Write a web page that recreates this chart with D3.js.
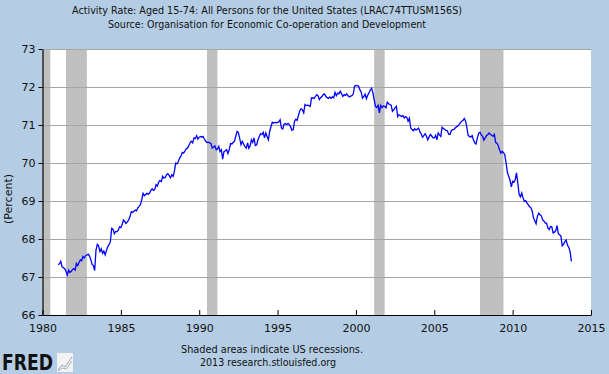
<!DOCTYPE html>
<html>
<head>
<meta charset="utf-8">
<script src="https://cdn.jsdelivr.net/npm/d3@7"></script>
<style>
  html, body { margin: 0; padding: 0; background: #B4CDE4; }
  svg { display: block; }
  text { font-family: "DejaVu Sans", Verdana, sans-serif; fill: #111; }
</style>
</head>
<body>
<script>
// monthly activity rate, starting January 1981
var startYear = 1981;
var rateValues = [
  67.32, 67.35, 67.41, 67.27, 67.25, 67.22, 67.15, 67.05, 67.18, 67.12, 67.15, 67.20, // 1981
  67.22, 67.18, 67.36, 67.30, 67.38, 67.45, 67.43, 67.54, 67.50, 67.56, 67.58, 67.60, // 1982
  67.55, 67.45, 67.33, 67.30, 67.17, 67.71, 67.86, 67.82, 67.67, 67.74, 67.62, 67.68, // 1983
  67.58, 67.70, 67.80, 67.85, 67.93, 68.28, 68.26, 68.14, 68.20, 68.19, 68.23, 68.32, // 1984
  68.30, 68.39, 68.50, 68.46, 68.41, 68.45, 68.50, 68.59, 68.72, 68.70, 68.73, 68.76, // 1985
  68.74, 68.82, 68.86, 68.90, 69.03, 69.20, 69.14, 69.17, 69.20, 69.18, 69.21, 69.28, // 1986
  69.32, 69.28, 69.30, 69.43, 69.39, 69.50, 69.54, 69.51, 69.65, 69.60, 69.62, 69.69, // 1987
  69.72, 69.67, 69.61, 69.69, 69.65, 69.78, 70.00, 69.98, 70.04, 70.13, 70.18, 70.28, // 1988
  70.26, 70.31, 70.37, 70.39, 70.45, 70.53, 70.57, 70.53, 70.66, 70.64, 70.72, 70.63, // 1989
  70.68, 70.70, 70.68, 70.70, 70.63, 70.57, 70.54, 70.55, 70.53, 70.51, 70.39, 70.42, // 1990
  70.45, 70.35, 70.37, 70.44, 70.30, 70.35, 70.10, 70.30, 70.32, 70.35, 70.25, 70.35, // 1991
  70.51, 70.50, 70.54, 70.57, 70.70, 70.83, 70.80, 70.65, 70.48, 70.57, 70.50, 70.43, // 1992
  70.39, 70.53, 70.39, 70.45, 70.61, 70.54, 70.66, 70.46, 70.48, 70.61, 70.70, 70.77, // 1993
  70.75, 70.81, 70.66, 70.79, 70.70, 70.61, 70.83, 70.96, 71.07, 71.05, 71.07, 71.06, // 1994
  71.07, 71.08, 71.14, 70.92, 70.89, 71.02, 71.04, 71.01, 71.04, 71.01, 70.95, 70.86, // 1995
  70.88, 71.10, 71.15, 71.12, 71.25, 71.37, 71.43, 71.40, 71.32, 71.54, 71.51, 71.52, // 1996
  71.51, 71.49, 71.71, 71.71, 71.70, 71.75, 71.80, 71.77, 71.67, 71.72, 71.75, 71.80, // 1997
  71.82, 71.75, 71.72, 71.70, 71.74, 71.70, 71.74, 71.72, 71.86, 71.77, 71.84, 71.82, // 1998
  71.89, 71.82, 71.75, 71.80, 71.78, 71.82, 71.77, 71.74, 71.76, 71.77, 71.82, 72.02, // 1999
  72.04, 72.03, 72.03, 71.93, 71.87, 71.71, 71.75, 71.81, 71.69, 71.78, 71.85, 71.92, // 2000
  71.97, 71.84, 71.67, 71.49, 71.46, 71.52, 71.32, 71.52, 71.46, 71.50, 71.49, 71.45, // 2001
  71.60, 71.56, 71.54, 71.52, 71.36, 71.40, 71.45, 71.49, 71.22, 71.27, 71.25, 71.22, // 2002
  71.25, 71.18, 71.22, 71.20, 71.10, 71.18, 70.92, 70.88, 70.85, 70.90, 70.87, 70.89, // 2003
  70.92, 70.82, 70.77, 70.68, 70.72, 70.77, 70.71, 70.61, 70.68, 70.75, 70.71, 70.66, // 2004
  70.66, 70.73, 70.61, 70.79, 70.74, 70.70, 70.94, 70.91, 70.88, 70.86, 70.85, 70.76, // 2005
  70.75, 70.85, 70.88, 70.88, 70.92, 70.95, 70.97, 71.01, 71.06, 71.10, 71.12, 71.17, // 2006
  71.10, 70.92, 70.72, 70.70, 70.68, 70.72, 70.61, 70.53, 70.50, 70.66, 70.78, 70.81, // 2007
  70.74, 70.70, 70.60, 70.66, 70.72, 70.75, 70.79, 70.75, 70.73, 70.70, 70.75, 70.54, // 2008
  70.52, 70.45, 70.35, 70.26, 70.31, 70.27, 70.22, 70.00, 69.75, 69.65, 69.55, 69.37, // 2009
  69.52, 69.50, 69.56, 69.74, 69.47, 69.17, 69.11, 69.21, 69.08, 68.99, 69.01, 68.95, // 2010
  68.90, 68.85, 68.82, 68.74, 68.56, 68.48, 68.40, 68.60, 68.68, 68.64, 68.61, 68.51, // 2011
  68.47, 68.42, 68.42, 68.29, 68.25, 68.33, 68.32, 68.16, 68.18, 68.22, 68.35, 68.14, // 2012
  68.11, 68.07, 67.82, 67.86, 67.93, 67.97, 67.84, 67.78, 67.67, 67.41              // 2013
];

// recessions, peak to trough [year, month(1-12)]
var recessionStart = [[1980, 1], [1981, 7], [1990, 7], [2001, 3], [2007, 12]];
var recessionEnd   = [[1980, 7], [1982, 11], [1991, 3], [2001, 11], [2009, 6]];

var yTicks = [66, 67, 68, 69, 70, 71, 72, 73];
var xTickYears = [1980, 1985, 1990, 1995, 2000, 2005, 2010, 2015];

var width = 609, height = 374;
var plotLeft = 42.5, plotRight = 591, plotTop = 49, plotBottom = 315;

var svg = d3.select("body")
    .append("svg")
    .attr("width", width)
    .attr("height", height);

svg.append("rect")
    .attr("width", width)
    .attr("height", height)
    .attr("fill", "#B4CDE4");

// faint dotted grey pattern for recession bars
var defs = svg.append("defs");
var pat = defs.append("pattern")
    .attr("id", "dots")
    .attr("width", 10)
    .attr("height", 10)
    .attr("patternUnits", "userSpaceOnUse");
pat.append("rect").attr("width", 10).attr("height", 10).attr("fill", "#C0C0C0");
pat.append("rect").attr("x", 2).attr("y", 3).attr("width", 1).attr("height", 1).attr("fill", "#B2B2B2");
pat.append("rect").attr("x", 7).attr("y", 8).attr("width", 1).attr("height", 1).attr("fill", "#B2B2B2");

var x = d3.scaleTime()
    .domain([new Date(1980, 0, 1), new Date(2015, 0, 1)])
    .range([plotLeft, plotRight]);

var y = d3.scaleLinear()
    .domain([66, 73])
    .range([plotBottom, plotTop]);

// plot area
svg.append("rect")
    .attr("x", plotLeft)
    .attr("y", plotTop)
    .attr("width", plotRight - plotLeft)
    .attr("height", plotBottom - plotTop)
    .attr("fill", "#FFFFFF");

// recession bars
svg.selectAll("rect.recession")
    .data(recessionStart)
    .enter()
    .append("rect")
    .attr("class", "recession")
    .attr("x", function(d) { return x(new Date(d[0], d[1] - 1, 1)); })
    .attr("y", plotTop)
    .attr("width", function(d, i) {
        var e = recessionEnd[i];
        return x(new Date(e[0], e[1] - 1, 1)) - x(new Date(d[0], d[1] - 1, 1));
    })
    .attr("height", plotBottom - plotTop)
    .attr("fill", "url(#dots)");

// horizontal gridlines
svg.selectAll("line.grid")
    .data(yTicks.slice(1))
    .enter()
    .append("line")
    .attr("class", "grid")
    .attr("x1", plotLeft)
    .attr("x2", plotRight)
    .attr("y1", function(d) { return Math.round(y(d)) + 0.5; })
    .attr("y2", function(d) { return Math.round(y(d)) + 0.5; })
    .attr("stroke", "#A6A6A6")
    .attr("stroke-width", 1);

// the series
var points = rateValues.map(function(v, i) {
    return { date: new Date(startYear, i, 1), value: v };
});

var line = d3.line()
    .x(function(d) { return x(d.date); })
    .y(function(d) { return y(d.value); });

svg.append("path")
    .datum(points)
    .attr("d", line)
    .attr("fill", "none")
    .attr("stroke", "#0000FF")
    .attr("stroke-width", 1.3)
    .attr("stroke-linejoin", "miter");

// axes
var yAxis = d3.axisLeft(y)
    .tickValues(yTicks)
    .tickSize(4)
    .tickSizeOuter(0)
    .tickPadding(3)
    .tickFormat(d3.format("d"));

var yG = svg.append("g")
    .attr("transform", "translate(" + plotLeft + ",0)")
    .call(yAxis);

var xAxis = d3.axisBottom(x)
    .tickValues(xTickYears.map(function(yr) { return new Date(yr, 0, 1); }))
    .tickSize(-5)
    .tickSizeOuter(0)
    .tickPadding(9)
    .tickFormat(d3.timeFormat("%Y"));

var xG = svg.append("g")
    .attr("transform", "translate(0," + plotBottom + ")")
    .call(xAxis);

[yG, xG].forEach(function(g) {
    g.selectAll("path.domain").attr("stroke", "#000").attr("stroke-width", 1.2);
    g.selectAll(".tick line").attr("stroke", "#000");
    g.selectAll(".tick text")
        .attr("font-family", "DejaVu Sans, sans-serif")
        .attr("font-size", 11)
        .attr("fill", "#111");
});

// titles
svg.append("text")
    .attr("x", 267)
    .attr("y", 14)
    .attr("text-anchor", "middle")
    .attr("font-size", 11)
    .attr("textLength", 390)
    .attr("lengthAdjust", "spacingAndGlyphs")
    .text("Activity Rate: Aged 15-74: All Persons for the United States (LRAC74TTUSM156S)");

svg.append("text")
    .attr("x", 267)
    .attr("y", 28)
    .attr("text-anchor", "middle")
    .attr("font-size", 11)
    .attr("textLength", 318)
    .attr("lengthAdjust", "spacingAndGlyphs")
    .text("Source: Organisation for Economic Co-operation and Development");

// y label
svg.append("text")
    .attr("transform", "translate(12,199) rotate(-90)")
    .attr("text-anchor", "middle")
    .attr("font-size", 11)
    .text("(Percent)");

// footer
svg.append("text")
    .attr("x", 272)
    .attr("y", 353)
    .attr("text-anchor", "middle")
    .attr("font-size", 11)
    .attr("textLength", 182)
    .attr("lengthAdjust", "spacingAndGlyphs")
    .text("Shaded areas indicate US recessions.");

svg.append("text")
    .attr("x", 268)
    .attr("y", 366)
    .attr("text-anchor", "middle")
    .attr("font-size", 11)
    .attr("textLength", 136)
    .attr("lengthAdjust", "spacingAndGlyphs")
    .text("2013 research.stlouisfed.org");

// FRED logo
svg.append("text")
    .attr("x", 2)
    .attr("y", 370)
    .attr("font-family", "Liberation Sans, Arial, sans-serif")
    .attr("font-weight", "bold")
    .attr("font-size", 22)
    .attr("textLength", 51)
    .attr("lengthAdjust", "spacingAndGlyphs")
    .attr("fill", "#000")
    .text("FRED");

svg.append("rect")
    .attr("x", 57)
    .attr("y", 353)
    .attr("width", 16)
    .attr("height", 19)
    .attr("fill", "#F2F2F2");
svg.append("path")
    .attr("d", "M58,370 L62,365 L65,367 L72,357")
    .attr("fill", "none")
    .attr("stroke", "#8FA8C8")
    .attr("stroke-width", 1);
svg.append("path")
    .attr("d", "M58,371 L62,368 L66,369 L72,361")
    .attr("fill", "none")
    .attr("stroke", "#B0B0B0")
    .attr("stroke-width", 1);
</script>
</body>
</html>
